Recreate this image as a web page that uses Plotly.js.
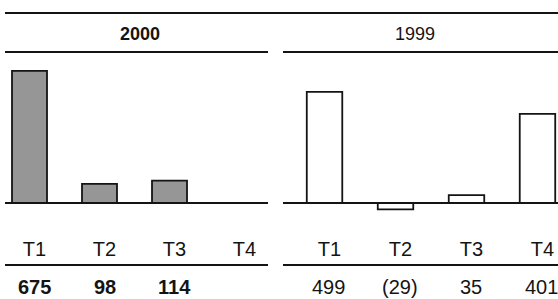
<!DOCTYPE html>
<html><head><meta charset="utf-8">
<script src="https://cdn.plot.ly/plotly-3.0.1.min.js"></script>
<style>html,body{margin:0;padding:0;background:#fff}#chart{width:558px;height:299px}</style>
</head><body><div id="chart"></div>
<script>
const categories = ["T1", "T2", "T3", "T4"];
const positions = [0, 1, 2, 3];
const year2000Label = "2000";
const year1999Label = "1999";
const values2000 = [675, 98, 114, null];
const values1999 = [499, -29, 35, 401];

const W = 558, H = 299, TOP = 60, BOT = 225;
const yp = pix => (BOT - pix) / (BOT - TOP);
const xp = pix => pix / W;
const fmt = v => v === null ? "" : (v < 0 ? "(" + Math.abs(v) + ")" : String(v));
const FONT = "Liberation Sans, Arial, sans-serif";
const INK = "#141414";

const traces = [
  {type: "bar", x: positions, y: values2000, xaxis: "x", yaxis: "y", width: 0.5,
   marker: {color: "#999999", line: {color: INK, width: 1.8},
            pattern: {shape: ".", fgcolor: "#747474", bgcolor: "#ababab", size: 2, solidity: 0.4}},
   hoverinfo: "skip"},
  {type: "bar", x: positions, y: values1999, xaxis: "x2", yaxis: "y2", width: 0.5,
   marker: {color: "#ffffff", line: {color: INK, width: 1.8}}, hoverinfo: "skip"}
];

function xax(domain, range) {
  return {domain: domain, range: range, showgrid: false, zeroline: false, showline: false,
          tickmode: "array", tickvals: positions, ticktext: categories, ticks: "",
          ticklabelstandoff: 10, ticklabelshift: 5,
          tickfont: {family: FONT, size: 20, color: INK}, fixedrange: true};
}
function yax(range, anchor) {
  return {range: range, anchor: anchor, showgrid: false, showticklabels: false, ticks: "",
          zeroline: true, zerolinecolor: INK, zerolinewidth: 2, showline: false, fixedrange: true};
}

const annotations = [];
positions.forEach((p, i) => {
  annotations.push({xref: "x", yref: "paper", x: p, xshift: 5, y: yp(287), text: fmt(values2000[i]),
    showarrow: false, font: {family: FONT, size: 20, color: INK, weight: "bold"},
    xanchor: "center", yanchor: "middle"});
  annotations.push({xref: "x2", yref: "paper", x: p, xshift: 4, y: yp(287), text: fmt(values1999[i]),
    showarrow: false, font: {family: FONT, size: 20, color: INK}, xanchor: "center", yanchor: "middle"});
});
annotations.push({xref: "paper", yref: "paper", x: xp(140), y: yp(34), text: year2000Label,
  showarrow: false, font: {family: FONT, size: 18, color: INK, weight: "bold"},
  xanchor: "center", yanchor: "middle"});
annotations.push({xref: "paper", yref: "paper", x: xp(415), y: yp(34), text: year1999Label,
  showarrow: false, font: {family: FONT, size: 18, color: INK}, xanchor: "center", yanchor: "middle"});

const line = (x0, x1, y, w) => ({type: "line", xref: "paper", yref: "paper",
  x0: xp(x0), x1: xp(x1), y0: yp(y), y1: yp(y), line: {color: INK, width: w || 2}});

const layout = {
  width: W, height: H, margin: {l: 0, r: 0, t: TOP, b: H - BOT},
  paper_bgcolor: "#fff", plot_bgcolor: "rgba(0,0,0,0)", showlegend: false,
  xaxis: xax([5 / W, 268 / W], [-0.35, 3.407]),
  xaxis2: xax([283 / W, 1], [-0.585, 3.289]),
  yaxis: yax([-112.5, 731], "x"),
  yaxis2: yax([-98.9, 642.7], "x2"),
  shapes: [line(5, 558, 13), line(5, 268, 52), line(283, 558, 52), line(5, 268, 265), line(283, 558, 265)],
  annotations: annotations
};
Plotly.newPlot("chart", traces, layout, {staticPlot: true, displayModeBar: false});
</script></body></html>
